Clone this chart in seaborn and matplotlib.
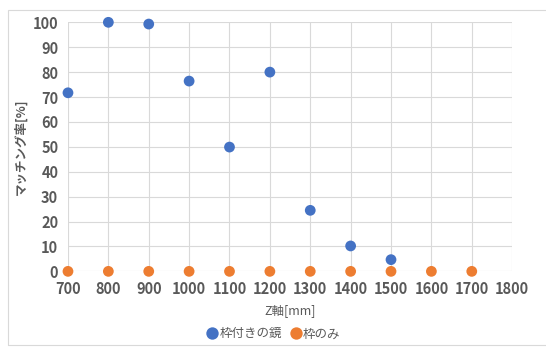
import matplotlib
matplotlib.use("Agg")
import matplotlib.pyplot as plt
import seaborn as sns
import pandas as pd
from matplotlib.patches import Rectangle

# data
z_mirror = [700, 800, 900, 1000, 1100, 1200, 1300, 1400, 1500]
rate_mirror = [71.7, 100, 99.3, 76.4, 49.9, 80, 24.5, 10.2, 4.7]
z_frame = [700, 800, 900, 1000, 1100, 1200, 1300, 1400, 1500, 1600, 1700]
rate_frame = [0, 0, 0, 0, 0, 0, 0, 0, 0, 0, 0]
series = ["枠付きの鏡", "枠のみ"]
colors = ["#4472C4", "#ED7D31"]

df = pd.concat([
    pd.DataFrame({"z": z_mirror, "rate": rate_mirror, "series": series[0]}),
    pd.DataFrame({"z": z_frame, "rate": rate_frame, "series": series[1]}),
])

sns.set_style("white")
plt.rcParams["font.family"] = ["Noto Sans CJK JP", "DejaVu Sans"]

fig = plt.figure(figsize=(5.46, 3.47), dpi=100)
ax = fig.add_axes([0.1245, 0.218, 0.8135, 0.7177])

sns.scatterplot(data=df, x="z", y="rate", hue="series", hue_order=series,
                palette=colors, s=60, edgecolor="none", ax=ax, zorder=3,
                clip_on=False)

ax.set_xlim(700, 1800)
ax.set_ylim(0, 100)
ax.set_xticks(range(700, 1801, 100))
ax.set_yticks(range(0, 101, 10))
ax.grid(True, color="#d9d9d9", linewidth=0.8)
ax.set_axisbelow(True)
for s in ax.spines.values():
    s.set_visible(False)
ax.tick_params(length=0, labelsize=10.5, labelcolor="#595959", pad=7)
for lbl in ax.get_xticklabels() + ax.get_yticklabels():
    lbl.set_fontweight("bold")

ax.set_xlabel("Z軸[mm]", fontsize=9, color="#595959", labelpad=5)
ax.set_ylabel("マッチング率[%]", fontsize=9, color="#595959", labelpad=4,
              fontweight="bold")

handles, labels = ax.get_legend_handles_labels()
ax.legend(handles, labels, loc="center", bbox_to_anchor=(0.5, 0.038),
          bbox_transform=fig.transFigure, ncol=2, frameon=False,
          fontsize=9, handletextpad=0.05, columnspacing=0.6,
          handlelength=1.0, labelcolor="#595959", markerscale=1.15)

fig.patches.append(Rectangle((8 / 546, 0.005), 0.99, 0.965,
                             transform=fig.transFigure, fill=False,
                             edgecolor="#d9d9d9", linewidth=0.8))

fig.savefig("out.png", dpi=100)
